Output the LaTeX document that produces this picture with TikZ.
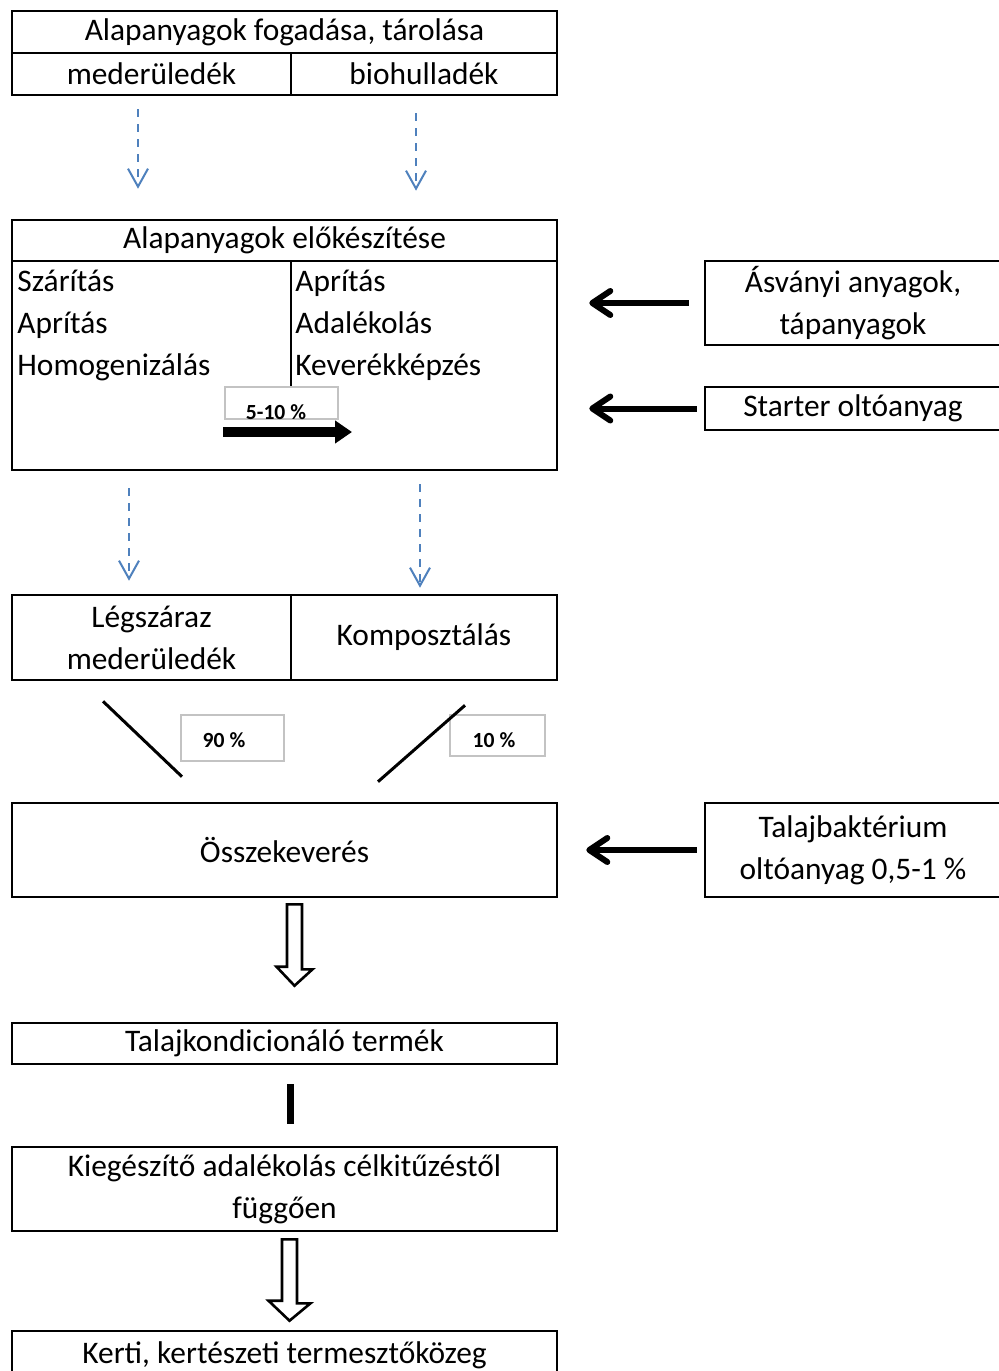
\documentclass[tikz,border=0pt]{standalone}
\usepackage{fontspec}
\setmainfont{Carlito}
\usetikzlibrary{arrows.meta,calc}
\definecolor{flowblue}{HTML}{4F81BD}
\definecolor{pctgray}{RGB}{195,195,195}
\newcommand{\mainfs}{\fontsize{15.7}{21}\selectfont}
\newcommand{\pctfs}{\fontsize{10.8}{12}\selectfont\bfseries}
\begin{document}
\begin{tikzpicture}[x=0.5pt,y=-0.5pt,
  rect/.style n args={4}{at={({(#1+#3)/2},{(#2+#4)/2})},
    minimum width={(#3-#1)*0.5pt}, minimum height={(#4-#2)*0.5pt}},
  box/.style={draw, line width=1.3pt, inner sep=0pt, align=center, font=\mainfs},
  listtxt/.style={inner sep=0pt, align=left, font=\mainfs},
  pctbox/.style={draw=pctgray, line width=0.8pt, inner sep=0pt},
  pcttxt/.style={inner sep=0pt, font=\pctfs},
  flow/.style={draw=flowblue, line width=1pt, dash pattern=on 4pt off 3.5pt,
    -{Straight Barb[length=9pt,width=10pt,line width=1pt]}},
  feed/.style={line width=3pt, -{Straight Barb[length=9pt,width=12pt,round]}},
  bigarrow/.style={line width=5pt, -{Triangle[length=8.5pt,width=11pt]}},
  mixline/.style={line width=1.5pt},
  hollow/.style={draw, fill=white, line width=1.3pt, line join=miter},
  bar/.style={line width=3.5pt}
]
\useasboundingbox (0,0) rectangle (999,1371);
\begin{scope}
\clip (0,0) rectangle (999,1371);

% Box 1
\node[box, rect={12}{11}{557}{53}] (recv) {Alapanyagok fogadása, tárolása};
\node[box, rect={12}{53}{291}{95}] (med) {mederüledék};
\node[box, rect={291}{53}{557}{95}] (bio) {biohulladék};

% Box 2
\node[box, rect={12}{220}{557}{261}] (prephead) {Alapanyagok előkészítése};
\node[box, rect={12}{261}{557}{470}] (prep) {};
\node[listtxt, anchor=west] (pl) at (17,325) {Szárítás\\Aprítás\\Homogenizálás};
\node[listtxt, anchor=west] (pr) at (295,325) {Aprítás\\Adalékolás\\Keverékképzés};
\node[pctbox, rect={225}{387}{338}{419}] (p510) {};
\node[pcttxt] (t510) at (276,412) {5-10 \%};
\draw[line width=1.3pt] (prephead.south -| 291,0) -- (p510.north -| 291,0);
\coordinate (a510s) at (223,432);
\coordinate (a510e) at (352,432);
\draw[bigarrow] (a510s) -- (a510e);

% Right boxes
\node[box, rect={705}{261}{1001}{345}] (asv) {Ásványi anyagok,\\tápanyagok};
\node[box, rect={705}{387}{1001}{430}] (start) {Starter oltóanyag};

% Box 3
\node[box, rect={12}{595}{291}{680}] (leg) {Légszáraz\\mederüledék};
\node[box, rect={291}{595}{557}{680}] (komp) {Komposztálás};

% Percent boxes
\node[pctbox, rect={181}{715}{284}{761}] (p90) {};
\node[pcttxt] (t90) at (224,740) {90 \%};
\node[pctbox, rect={450}{715}{545}{756}] (p10) {};
\node[pcttxt] (t10) at (494,740) {10 \%};

% Box 4
\node[box, rect={12}{803}{557}{897}] (mix) {Összekeverés};
\node[box, rect={705}{803}{1001}{897}] (bact) {Talajbaktérium\\oltóanyag 0,5-1 \%};

% Lower boxes
\node[box, rect={12}{1023}{557}{1064}] (cond) {Talajkondicionáló termék};
\node[box, rect={12}{1147}{557}{1231}] (kieg) {Kiegészítő adalékolás célkitűzéstől\\függően};
\node[box, rect={12}{1331}{557}{1380}] (kerti) {Kerti, kertészeti termesztőközeg};

% Dashed flow arrows
\draw[flow] ($(med.south)+(-13.5,13)$) -- ($(prephead.north -| med.south)+(-13.5,-30)$);
\draw[flow] ($(bio.south)+(-8,17)$) -- ($(prephead.north -| bio.south)+(-8,-28)$);
\draw[flow] ($(prep.south -| leg.north)+(-22.5,17)$) -- ($(leg.north)+(-22.5,-13)$);
\draw[flow] ($(prep.south -| komp.north)+(-4,13)$) -- ($(komp.north)+(-4,-6)$);

% Feed arrows
\draw[feed, shorten <=7.5pt, shorten >=15.5pt] (asv.west) -- (asv.west -| prep.east);
\draw[feed, shorten <=3.5pt, shorten >=15.5pt] (start.west) -- (start.west -| prep.east);
\draw[feed, shorten <=3.5pt, shorten >=14pt] (bact.west) -- (bact.west -| mix.east);

% Mixing lines
\draw[mixline] ($(leg.south)+(-48.5,20)$) -- ($(mix.north)+(-102.5,-25)$);
\draw[mixline] ($(komp.south)+(41,24)$) -- ($(mix.north)+(93.5,-20)$);

% Hollow arrows
\coordinate (h1s) at ($(mix.south)+(10,6)$);
\coordinate (h1e) at ($(cond.north)+(10,-36)$);
\draw[hollow] (h1s) ++(-7.5,0) -- ++(15,0) -- ++(0,65) -- ++(10.5,0) -- (h1e) -- ++(-18,-19) -- ++(10.5,0) -- cycle;

\draw[bar] ($(cond.south)+(6,19)$) -- ($(kieg.north)+(6,-22)$);

\coordinate (h2s) at ($(kieg.south)+(5,7)$);
\coordinate (h2e) at ($(kerti.north)+(5,-9)$);
\draw[hollow] (h2s) ++(-7.5,0) -- ++(15,0) -- ++(0,64) -- ++(13.5,0) -- (h2e) -- ++(-21,-20) -- ++(13.5,0) -- cycle;
\end{scope}
\end{tikzpicture}
\end{document}
